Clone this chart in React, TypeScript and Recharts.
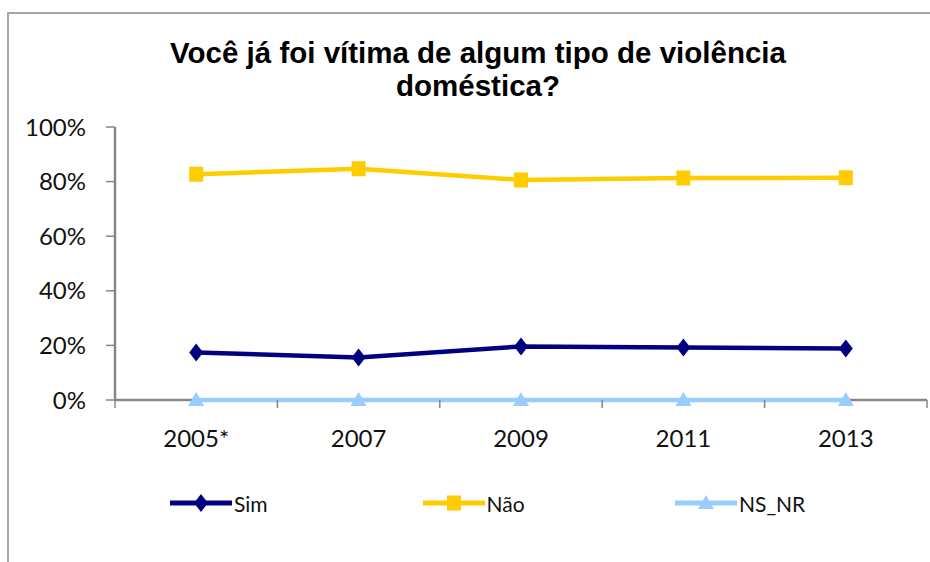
import { LineChart, Line, XAxis, YAxis, Legend } from 'recharts';

const years = ['2005*', '2007', '2009', '2011', '2013'];
const sim = [0.174, 0.156, 0.196, 0.192, 0.189];
const nao = [0.827, 0.847, 0.806, 0.813, 0.814];
const nsnr = [0, 0, 0, 0, 0];
const yTicks = [0, 0.2, 0.4, 0.6, 0.8, 1];

const data = years.map((year, i) => ({ year, Sim: sim[i], 'Não': nao[i], NS_NR: nsnr[i] }));

const W = 930;
const H = 562;
const PLOT_LEFT = 115;
const PLOT_RIGHT = 3;
const BAND = (W - PLOT_LEFT - PLOT_RIGHT) / years.length;
const AXIS_GRAY = '#868686';
const FONT = 'Lato, "Open Sans", sans-serif';

const NAVY = '#000080';
const GOLD = '#FFCC00';
const SKY = '#99CCFF';

const series = [
  { key: 'Sim', color: NAVY },
  { key: 'Não', color: GOLD },
  { key: 'NS_NR', color: SKY },
];

const Diamond = ({ cx, cy, color }: any) => (
  <path d={`M${cx},${cy - 9} L${cx + 7},${cy} L${cx},${cy + 9} L${cx - 7},${cy} Z`} fill={color} />
);
const Square = ({ cx, cy, color }: any) => (
  <rect x={cx - 7} y={cy - 7.5} width={14} height={15} fill={color} />
);
const Triangle = ({ cx, cy, color }: any) => (
  <path d={`M${cx},${cy - 8} L${cx + 8},${cy + 6} L${cx - 8},${cy + 6} Z`} fill={color} />
);

const markers: Record<string, any> = { Sim: Diamond, 'Não': Square, NS_NR: Triangle };

const XTick = ({ x, y, payload, index }: any) => (
  <g>
    {index === 0 && (
      <line x1={x - BAND / 2} y1={y} x2={x - BAND / 2} y2={y + 8} stroke={AXIS_GRAY} strokeWidth={1.5} />
    )}
    <line x1={x + BAND / 2} y1={y} x2={x + BAND / 2} y2={y + 8} stroke={AXIS_GRAY} strokeWidth={1.5} />
    <text x={x} y={y + 47} textAnchor="middle" fontSize={24} fontFamily={FONT} fill="#111">
      {payload.value}
    </text>
  </g>
);

const LegendContent = ({ payload }: any) => {
  const items = series
    .map((s) => (payload || []).find((e: any) => e.value === s.key || e.dataKey === s.key))
    .filter(Boolean);
  return (
    <div style={{ display: 'flex', height: 24, alignItems: 'center', fontFamily: FONT, fontSize: 21, color: '#111' }}>
      {items.map((entry: any) => {
        const M = markers[entry.value];
        return (
          <div key={entry.value} style={{ width: 252.5, display: 'flex', alignItems: 'center' }}>
            <svg width={62} height={20}>
              <line x1={0} y1={10} x2={62} y2={10} stroke={entry.color} strokeWidth={5} />
              <M cx={31} cy={10} color={entry.color} />
            </svg>
            <span style={{ marginLeft: 2 }}>{entry.value}</span>
          </div>
        );
      })}
    </div>
  );
};

export default function App() {
  return (
    <div style={{ position: 'absolute', left: 0, top: 0, width: W, height: H, background: '#fff' }}>
      <div
        style={{
          position: 'absolute',
          left: 7,
          top: 12,
          right: 0,
          bottom: 0,
          borderLeft: '2px solid #a6a6a6',
          borderTop: '2px solid #a6a6a6',
        }}
      />
      <div
        style={{
          position: 'absolute',
          left: 0,
          width: 956,
          top: 36,
          textAlign: 'center',
          fontFamily: '"Liberation Sans", Arial, sans-serif',
          fontWeight: 'bold',
          fontSize: 29.5,
          lineHeight: '33px',
          color: '#000',
        }}
      >
        Você já foi vítima de algum tipo de violência
        <br />
        doméstica?
      </div>
      <LineChart
        width={W}
        height={H}
        data={data}
        margin={{ top: 127, right: PLOT_RIGHT, left: 10, bottom: 47 }}
        style={{ position: 'absolute', left: 0, top: 0 }}
      >
        <XAxis
          dataKey="year"
          height={91}
          padding={{ left: BAND / 2, right: BAND / 2 }}
          axisLine={{ stroke: AXIS_GRAY, strokeWidth: 2.5 }}
          tickLine={false}
          tickSize={0}
          tickMargin={0}
          tick={<XTick />}
          interval={0}
          zIndex={0}
        />
        <YAxis
          width={105}
          domain={[0, 1]}
          ticks={yTicks}
          tickFormatter={(v: number) => `${Math.round(v * 100)}%`}
          axisLine={{ stroke: AXIS_GRAY, strokeWidth: 2.5 }}
          tickLine={{ stroke: AXIS_GRAY, strokeWidth: 1.5 }}
          tickSize={9}
          tickMargin={20}
          tick={{ fontSize: 24, fontFamily: FONT, fill: '#111' }}
          zIndex={0}
        />
        <Legend
          verticalAlign="bottom"
          content={<LegendContent />}
          wrapperStyle={{ left: 170, width: 760 }}
        />
        {series.map((s) => {
          const M = markers[s.key];
          return (
            <Line
              key={s.key}
              dataKey={s.key}
              stroke={s.color}
              strokeWidth={4.5}
              isAnimationActive={false}
              dot={(p: any) => <M key={`${s.key}-${p.index}`} cx={p.cx} cy={p.cy} color={s.color} />}
              activeDot={false}
              zIndex={600}
            />
          );
        })}
      </LineChart>
    </div>
  );
}
